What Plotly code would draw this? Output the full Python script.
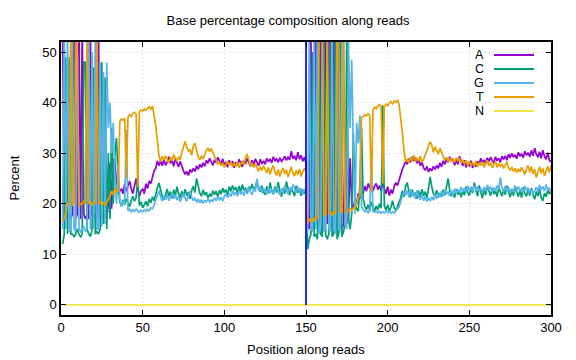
import plotly.graph_objects as go

positions = list(range(1, 301))

base_A = [
    55, 17, 18, 17, 18, 17, 18, 55, 17, 18,
    55, 17, 55, 18, 17, 18, 17, 55, 18, 17,
    18, 17, 53, 17, 18, 17, 18, 17, 20, 28,
    19, 29, 28, 24, 22, 22.5, 23, 22, 24, 22.5,
    23.5, 24.5, 23, 22, 23.5, 25, 23, 21.5, 22.5, 23,
    22, 24, 23, 24.5, 24, 25.5, 26.5, 27, 28.5, 27.5,
    28.5, 27.5, 28.8, 27.6, 28.2, 29.3, 28, 28.6, 27.4, 28.9,
    28.1, 27.3, 28.4, 27.2, 26.5, 25.8, 26.4, 25.6, 26.8, 26.2,
    27, 26.4, 27.5, 26.8, 27.8, 27.2, 28.1, 27.4, 28.6, 28,
    29, 28.3, 27.6, 28.7, 28.1, 29.2, 28.4, 27.8, 28.9, 27.5,
    28.3, 27.2, 28.6, 27.8, 28.4, 27.1, 28.2, 27.6, 28.8, 28,
    27.3, 28.5, 27.9, 29, 28.2, 27.4, 28.6, 27.7, 28.9, 28.1,
    27.5, 28.8, 27.9, 28.5, 27.8, 29, 28.3, 28.9, 28.1, 29.3,
    28.5, 28.9, 28.2, 29.1, 28.4, 28.8, 29.4, 28.6, 29.2, 28.7,
    30.4, 28.9, 29.5, 28.6, 30.2, 28.8, 29.6, 28.4, 29.2, 28,
    16, 15, 55, 16, 15, 55, 16, 15, 55, 16,
    15, 55, 16, 55, 15, 16, 55, 15, 16, 55,
    16, 15, 16, 34, 16, 17, 29, 20, 19, 21,
    20, 22, 21, 22.5, 22, 23.5, 22.5, 24, 23, 24.5,
    22.5, 23.5, 24, 22.8, 23.6, 22.5, 24.2, 23, 22, 23.4,
    21.6, 22.8, 22, 23.5, 24.2, 23.6, 24.8, 25.5, 26.8, 27.6,
    28.4, 27.8, 28.9, 28.2, 29.3, 28.5, 29.1, 28, 28.8, 27.5,
    28.3, 27.1, 26.6, 27.4, 26.3, 27, 26.5, 27.4, 26.8, 27.6,
    27, 28.1, 27.3, 28.5, 27.8, 28.9, 28.2, 29.3, 28.4, 28.9,
    27.6, 28.7, 27.8, 29.4, 28.3, 27.5, 28.6, 27.2, 28.1, 27.4,
    28.5, 27.1, 27.9, 27.3, 28.4, 27.8, 29, 28.1, 28.7, 27.9,
    29.1, 28.4, 29.2, 28.6, 28, 29.3, 28.5, 29, 28.2, 29.4,
    28.8, 29.5, 28.6, 29.8, 29.1, 30, 29.2, 29.7, 28.9, 30.2,
    29.4, 29.9, 29.1, 30.4, 29.6, 30.1, 29.3, 30.6, 29.5, 31,
    29.8, 29.2, 30.3, 29, 30.6, 29.4, 28.8, 30.1, 28.6, 28.2,
]

base_C = [
    12, 14, 49, 14, 49, 14, 14, 13.5, 14, 15,
    14, 13.5, 14, 48, 48, 15, 14, 13.5, 15, 47,
    14, 14.5, 14, 15, 48, 16, 45, 15, 30, 17,
    35, 20, 30, 33, 24, 20.5, 19.5, 20.8, 19.8, 21,
    20.2, 19.4, 20.6, 21.5, 20.5, 21.2, 25.3, 19.6, 20.4, 19.2,
    19.8, 20.5, 19.5, 21, 20.2, 21.4, 20.6, 22, 23.2, 24.1,
    22.6, 21.4, 20.8, 21.8, 22.9, 21.5, 22.4, 21.1, 22.8, 21.6,
    23.4, 22, 21.2, 22.5, 21.4, 22.9, 21.6, 22.3, 21, 22.6,
    23.5, 22.2, 25, 23.6, 22.1, 21.5, 22.8, 21.7, 22.3, 21.1,
    22, 21.4, 22.6, 21.8, 22.5, 21.3, 22.7, 21.9, 23.1, 22.2,
    22.8, 21.6, 23.4, 22.5, 23.6, 22.7, 23.3, 22.1, 23.5, 22.4,
    23.8, 22.6, 23.2, 22, 23.4, 22.8, 23.9, 22.7, 23.3, 24.5,
    23, 22.4, 23.6, 22.3, 21.8, 23.5, 22.1, 24.2, 22.6, 21.9,
    23.4, 22.2, 24.3, 22.5, 21.4, 23.1, 22, 24.4, 22.8, 21.7,
    23.2, 22.4, 21.5, 23.6, 22.2, 23, 21.6, 22.8, 22, 22.5,
    11, 13, 14, 50, 13.5, 14, 13, 55, 14, 13.5,
    55, 14, 13, 14, 55, 13.5, 14, 55, 13, 14,
    55, 13.5, 14.5, 16, 55, 17, 15, 18, 34, 20,
    19, 18.5, 24, 35, 21, 19.5, 18.8, 19.8, 18.6, 20.4,
    19.2, 18.5, 19.6, 18.8, 20, 19.1, 39.5, 19.5, 18.7, 19.8,
    18.5, 19.3, 20.6, 19.2, 18.6, 19.5, 20.4, 21.2, 22.6, 21.4,
    23.5, 24.2, 22.4, 21.3, 22.8, 21.5, 22.2, 21, 22.6, 21.4,
    22.9, 21.6, 22.4, 21.2, 23, 25.3, 23.4, 22, 21.5, 22.7,
    21.3, 22.1, 21.4, 22.8, 21.7, 23.2, 25, 22.6, 21.5, 22.4,
    21.2, 22.9, 21.8, 22.5, 21.3, 22.6, 21.7, 23.4, 22.2, 21.6,
    23.3, 22.1, 24.2, 22.8, 21.5, 23.6, 22.2, 21.1, 22.9, 21.7,
    23.5, 22.4, 21.6, 23.1, 21.9, 22.6, 21.4, 23.2, 22.1, 21.5,
    22.9, 21.8, 23.6, 22.4, 21.3, 22.8, 21.6, 23.4, 22.2, 21.4,
    22.7, 21.2, 23.3, 22, 21.5, 22.8, 21.6, 23.1, 21.8, 20.9,
    22.4, 21.5, 22.9, 21.2, 20.6, 22.1, 21.4, 22.7, 21.9, 22.6,
]

base_G = [
    15, 55, 15, 55, 14.5, 15, 55, 15, 14.5, 50,
    15, 14.5, 15, 15.5, 14.5, 15, 55, 15, 50, 15,
    55, 15, 15, 48, 15.5, 46, 16, 48, 35, 40,
    30, 36, 25, 20, 28, 21, 19.5, 20.5, 20, 34.6,
    18.6, 18.9, 18.4, 18.8, 18.5, 19, 18.6, 18.3, 18.7, 18.4,
    18.8, 18.5, 18.9, 18.6, 19.2, 19, 19.8, 20.6, 21.8, 22.6,
    21.4, 20.5, 21.6, 20.8, 21.9, 20.6, 21.3, 22.2, 21, 21.8,
    20.7, 21.5, 20.4, 21.2, 22, 21.1, 20.5, 21.7, 22.5, 21.3,
    20.6, 21.2, 20.3, 20.9, 20.2, 20.8, 20.1, 20.6, 20.4, 21,
    20.3, 20.8, 20.5, 21.2, 20.6, 21.4, 20.8, 21.3, 20.5, 21.5,
    21.9, 21.2, 22.1, 21.4, 22.6, 21.7, 22.3, 21.5, 22.8, 21.9,
    22.4, 21.6, 22.9, 22.1, 23.2, 22.3, 21.8, 23, 22.4, 25,
    22.6, 23.4, 22.2, 23.1, 22.5, 21.8, 23.3, 22.1, 22.9, 21.9,
    22.7, 23.5, 22.4, 21.7, 23, 22.3, 23.6, 22.5, 21.9, 23.2,
    22.6, 23.8, 22.7, 22.1, 23.4, 22.5, 23.1, 21.8, 22.9, 22.3,
    14, 55, 15, 14.5, 55, 15, 55, 14, 15, 55,
    14.5, 15, 55, 15, 14.5, 55, 15, 14, 55, 15,
    14.5, 55, 52, 16, 15, 52, 35, 48.5, 30, 18,
    36, 32, 37.5, 19.5, 18.8, 18.4, 18.7, 18.2, 18.6, 30,
    18.5, 18.3, 18.6, 18.2, 18.5, 18.1, 18.4, 18.2, 18.6, 18.3,
    18.5, 18.1, 18.4, 18.2, 18.6, 18.9, 19.4, 20.5, 21.6, 22.4,
    21.8, 22.6, 21.3, 22.9, 21.6, 22.3, 21, 22.7, 21.4, 20.8,
    21.9, 20.6, 21.5, 20.4, 21.2, 20.5, 21.4, 20.7, 21.8, 21,
    22.2, 21.3, 22.5, 21.6, 22.8, 21.9, 22.4, 21.5, 22.7, 21.8,
    23, 22.1, 22.9, 22.2, 23.3, 22.4, 23.1, 22.3, 23.5, 22.6,
    23.2, 22.5, 23.6, 22.7, 23.4, 22.6, 23, 22.2, 23.3, 22.5,
    23.7, 22.8, 23.4, 22.4, 23.2, 22.5, 23.6, 22.9, 25.2, 23.1,
    22.4, 23.5, 22.6, 23.3, 22.1, 23, 22.3, 23.6, 22.7, 23.4,
    22.5, 23.1, 22.2, 23.5, 22.6, 23.2, 22.1, 22.8, 21.9, 22.6,
    23.3, 22.4, 23.7, 22.8, 23.4, 22.5, 23.8, 22.7, 23.1, 22.4,
]

base_T = [
    16.5, 17, 18.5, 20, 20, 55, 19.5, 20.5, 55, 50,
    19.5, 20, 20, 20.5, 20, 55, 20, 20.5, 19.8, 20.2,
    20, 55, 20, 20.5, 19.8, 20.3, 19.6, 20.4, 20.8, 21.5,
    22.5, 21.8, 23, 22.4, 22.5, 36.2, 36.8, 36.5, 36.9, 25,
    37.2, 37.6, 37.3, 37.9, 38.1, 37.7, 23.3, 38.2, 38.6, 38.3,
    38.8, 38.5, 38.9, 39.2, 38.7, 39.3, 37.5, 35.5, 32.5, 29.5,
    28.3, 29.4, 28.6, 29.5, 28.8, 28.1, 29.2, 28.5, 29.7, 28.9,
    28.4, 29.3, 28.7, 30.2, 31.5, 32.3, 31.2, 30.4, 30.8, 29.6,
    31.4, 32, 30.6, 29.2, 28.7, 29.5, 28.9, 29.8, 30.5, 31,
    30.3, 30.9, 30.1, 29.4, 28.6, 27.8, 28.3, 27.5, 28.1, 27.2,
    27.9, 28.4, 27.6, 28.2, 27.3, 28, 27.4, 28.3, 27.1, 27.8,
    28.5, 27.6, 29.2, 29.8, 28.4, 27.5, 28.1, 27.2, 27.9, 27,
    26.4, 27.3, 26.6, 27.5, 26.8, 26.1, 27.2, 25.8, 26.9, 27.6,
    26.3, 25.6, 26.8, 25.4, 26.5, 27.1, 25.9, 26.7, 25.3, 26.2,
    27.3, 26, 25.5, 26.6, 25.7, 26.9, 25.4, 26.3, 27, 26.4,
    16, 17, 16.5, 17, 16.5, 17.5, 17, 55, 55, 55,
    17.5, 18, 55, 18, 18.2, 17.8, 18.4, 18, 55, 55,
    18.5, 18.2, 55, 18.6, 18.3, 18.8, 19, 18.7, 19.2, 19,
    20, 21.4, 21.5, 37, 37.2, 37.6, 37.4, 37.8, 37.5, 22.3,
    38.6, 39.1, 38.8, 39.4, 39.6, 39.2, 24, 39.3, 39.7, 39.4,
    39.9, 40.2, 39.8, 40.3, 40.1, 40.5, 39.6, 37, 34, 30.5,
    28.3, 28.9, 28, 29.2, 28.5, 29.6, 28.3, 29, 28.6, 29.4,
    28.2, 28.8, 29.7, 30.5, 31.4, 32.3, 31.6, 30.2, 31.3, 30.6,
    29.8, 31, 30.1, 29.4, 28.6, 29.2, 28.4, 29, 28.3, 28.8,
    28.2, 29.1, 28.5, 28.9, 28.1, 28.7, 27.9, 28.6, 27.5, 28.4,
    27.7, 28.2, 27.4, 28.5, 27.3, 28.1, 27.6, 28.3, 27.2, 27.9,
    28.6, 27.5, 28.2, 27.1, 27.8, 28.4, 27.2, 28, 27.4, 27.9,
    27, 27.7, 28.3, 27.1, 26.6, 27.3, 26.4, 27, 26.2, 26.9,
    26.3, 27.2, 26.5, 25.8, 26.9, 27.6, 26.2, 27.4, 25.9, 26.8,
    25.2, 26.5, 27.3, 26, 27.1, 25.5, 26.7, 27.4, 26.2, 27.6,
]

base_N = [
    0, 0, 0, 0, 0, 0, 0, 0, 0, 0, 0, 0, 0, 0, 0, 0, 0, 0, 0, 0,
    0, 0, 0, 0, 0, 0, 0, 0, 0, 0, 0, 0, 0, 0, 0, 0, 0, 0, 0, 0,
    0, 0, 0, 0, 0, 0, 0, 0, 0, 0, 0, 0, 0, 0, 0, 0, 0, 0, 0, 0,
    0, 0, 0, 0, 0, 0, 0, 0, 0, 0, 0, 0, 0, 0, 0, 0, 0, 0, 0, 0,
    0, 0, 0, 0, 0, 0, 0, 0, 0, 0, 0, 0, 0, 0, 0, 0, 0, 0, 0, 0,
    0, 0, 0, 0, 0, 0, 0, 0, 0, 0, 0, 0, 0, 0, 0, 0, 0, 0, 0, 0,
    0, 0, 0, 0, 0, 0, 0, 0, 0, 0, 0, 0, 0, 0, 0, 0, 0, 0, 0, 0,
    0, 0, 0, 0, 0, 0, 0, 0, 0, 0, 0, 0, 0, 0, 0, 0, 0, 0, 0, 0,
    0, 0, 0, 0, 0, 0, 0, 0, 0, 0, 0, 0, 0, 0, 0, 0, 0, 0, 0, 0,
    0, 0, 0, 0, 0, 0, 0, 0, 0, 0, 0, 0, 0, 0, 0, 0, 0, 0, 0, 0,
    0, 0, 0, 0, 0, 0, 0, 0, 0, 0, 0, 0, 0, 0, 0, 0, 0, 0, 0, 0,
    0, 0, 0, 0, 0, 0, 0, 0, 0, 0, 0, 0, 0, 0, 0, 0, 0, 0, 0, 0,
    0, 0, 0, 0, 0, 0, 0, 0, 0, 0, 0, 0, 0, 0, 0, 0, 0, 0, 0, 0,
    0, 0, 0, 0, 0, 0, 0, 0, 0, 0, 0, 0, 0, 0, 0, 0, 0, 0, 0, 0,
    0, 0, 0, 0, 0, 0, 0, 0, 0, 0, 0, 0, 0, 0, 0, 0, 0, 0, 0, 0,
]

read_boundary_x = [150, 150]
read_boundary_y = [0, 100]

series_names = ["A", "C", "G", "T", "N"]
series_values = [base_A, base_C, base_G, base_T, base_N]
series_colors = ["#9400d3", "#009e73", "#56b4e9", "#e69f00", "#f0e442"]

for v in series_values:
    assert len(v) == len(positions), len(v)

FONT = "Liberation Sans, Arial, Helvetica, sans-serif"

fig = go.Figure()
for name, vals, col in zip(series_names, series_values, series_colors):
    fig.add_trace(go.Scatter(
        x=positions, y=vals, mode="lines", name=name,
        line=dict(color=col, width=1.7), showlegend=False,
    ))

fig.add_trace(go.Scatter(
    x=read_boundary_x, y=read_boundary_y, mode="lines",
    line=dict(color="#0000ff", width=1.7), showlegend=False,
))

# The page has an 8px body margin; the figure fills the rest of the
# 576x360 window. Layout positions below are given in window pixels.
OFF = 8
W, H = 576 - OFF, 360 - OFF
PL, PR, PT, PB = 61, 551, 42, 315          # plot box in window pixels
pw, ph = PR - PL, PB - PT
margin = dict(l=PL - OFF, r=W - (PR - OFF), t=PT - OFF, b=H - (PB - OFF))


def xp(px):
    return (px - PL) / pw


def yp(py):
    return (PB - py) / ph


key_rows_px = [55, 69, 83, 97, 111]
annotations = []
shapes = []
for name, col, ypx in zip(series_names, series_colors, key_rows_px):
    annotations.append(dict(
        x=xp(486), y=yp(ypx), xref="paper", yref="paper",
        text=name, showarrow=False, xanchor="right", yanchor="middle",
        font=dict(family=FONT, size=12.5, color="black"),
    ))
    shapes.append(dict(
        type="line", xref="paper", yref="paper",
        x0=xp(494), x1=xp(534), y0=yp(ypx), y1=yp(ypx),
        line=dict(color=col, width=2),
    ))

annotations.append(dict(
    x=0.5, y=yp(349), xref="paper", yref="paper",
    text="Position along reads", showarrow=False,
    xanchor="center", yanchor="middle",
    font=dict(family=FONT, size=13, color="black"),
))
annotations.append(dict(
    x=xp(14), y=0.5, xref="paper", yref="paper",
    text="Percent", showarrow=False, textangle=-90,
    xanchor="center", yanchor="middle",
    font=dict(family=FONT, size=13, color="black"),
))

axis_common = dict(
    showline=True, linecolor="black", linewidth=1.5, mirror="ticks",
    ticks="inside", ticklen=5, tickcolor="black", tickwidth=1,
    showgrid=True, gridcolor="#cfcfcf", griddash="1px,3px", gridwidth=1,
    zeroline=False, tickfont=dict(family=FONT, size=13, color="black"),
)

fig.update_layout(
    width=W, height=H,
    margin=margin,
    paper_bgcolor="white", plot_bgcolor="white",
    title=dict(
        text="Base percentage composition along reads",
        x=(288 - OFF) / W, xref="container", xanchor="center",
        y=1 - (20 - OFF) / H, yref="container", yanchor="middle",
        font=dict(family=FONT, size=13, color="black"),
    ),
    xaxis=dict(range=[0, 300], dtick=50, tick0=0, **axis_common),
    yaxis=dict(range=[-2, 52], dtick=10, tick0=0, **axis_common),
    annotations=annotations,
    shapes=shapes,
)

fig.write_html("out.html")
